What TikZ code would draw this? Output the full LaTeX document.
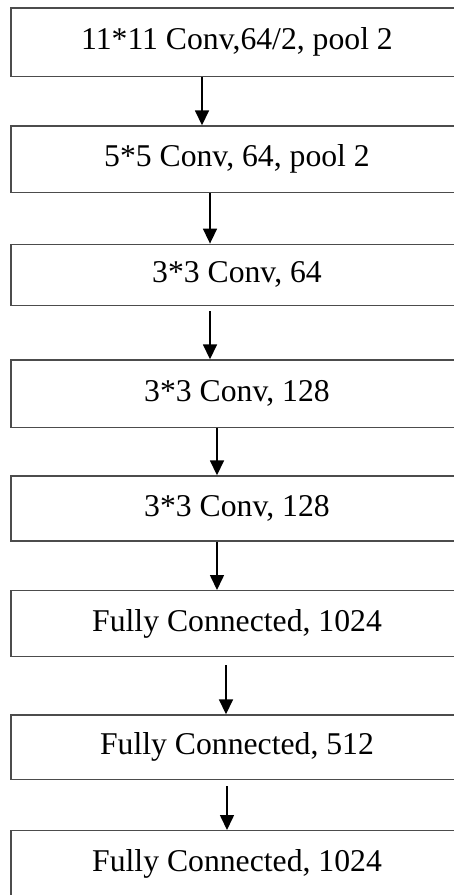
\documentclass[tikz,border=0pt]{standalone}
\usepackage{fontspec}
\setmainfont{Liberation Serif}
\usetikzlibrary{arrows.meta}
\tikzset{layer/.style = {draw=black!70, line width=1.4pt, minimum width=452pt,
                         inner sep=0pt, font=\fontsize{31.7}{36}\selectfont}}
\tikzset{flow/.style = {line width=1.6pt, -{Triangle[length=15pt,width=14pt]}}}

\begin{document}
\begin{tikzpicture}[x=1pt,y=-1pt]
		\useasboundingbox (0,0) rectangle (454,895);
		\node [layer, minimum height=68.7pt] (0) at (237, 42.35) {11*11 Conv,64/2, pool 2};
		\node [layer, minimum height=66.7pt] (1) at (237, 159.35) {5*5 Conv, 64, pool 2};
		\node [layer, minimum height=61pt] (2) at (237, 274.8) {3*3 Conv, 64};
		\node [layer, minimum height=67.7pt] (3) at (237, 393.85) {3*3 Conv, 128};
		\node [layer, minimum height=65pt] (4) at (237, 508.5) {3*3 Conv, 128};
		\node [layer, minimum height=66pt] (5) at (237, 623.7) {Fully Connected, 1024};
		\node [layer, minimum height=64.3pt] (6) at (237, 747.15) {Fully Connected, 512};
		\node [layer, minimum height=67pt] (7) at (237, 864.2) {Fully Connected, 1024};
		\draw [flow] ([xshift=-35pt]0.south) to ([xshift=-35pt]1.north);
		\draw [flow] ([xshift=-27pt]1.south) to ([xshift=-27pt]2.north);
		\draw [flow] ([xshift=-27pt,yshift=-5pt]2.south) to ([xshift=-27pt]3.north);
		\draw [flow] ([xshift=-20pt]3.south) to ([xshift=-20pt]4.north);
		\draw [flow] ([xshift=-20pt]4.south) to ([xshift=-20pt]5.north);
		\draw [flow] ([xshift=-11pt,yshift=-8pt]5.south) to ([xshift=-11pt]6.north);
		\draw [flow] ([xshift=-10pt,yshift=-6pt]6.south) to ([xshift=-10pt]7.north);
	\end{tikzpicture}
\end{document}
